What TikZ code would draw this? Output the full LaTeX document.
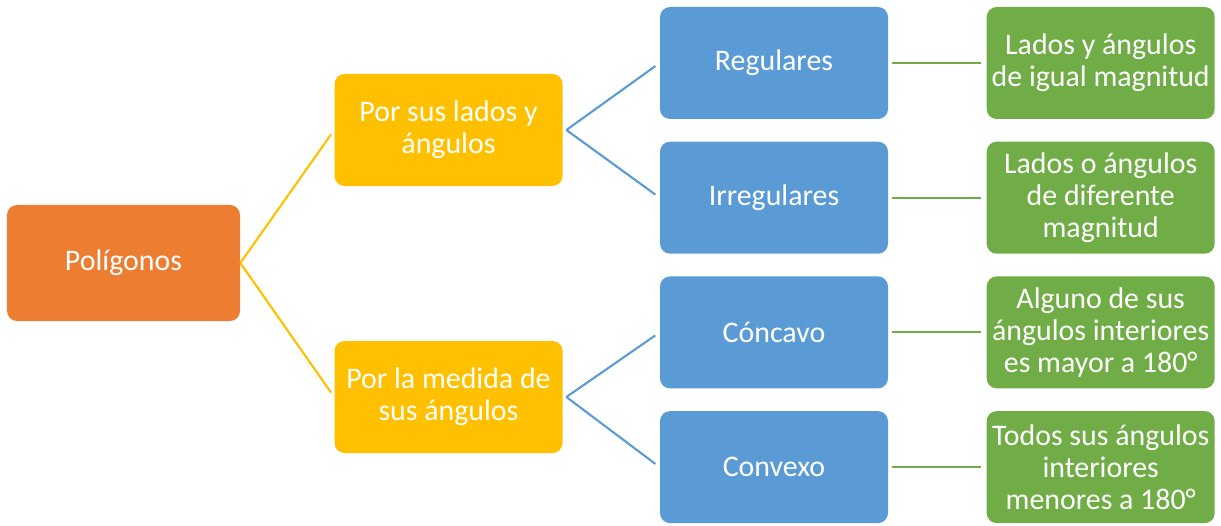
\documentclass[tikz,border=0pt]{standalone}
\usepackage{fontspec}
\setmainfont{Carlito}
\usetikzlibrary{positioning}
\definecolor{naranja}{HTML}{ED7D31}
\definecolor{oro}{HTML}{FFC000}
\definecolor{azul}{HTML}{5B9BD5}
\definecolor{verde}{HTML}{70AD47}

\tikzset{
  caja/.style={rounded corners=0.2cm, minimum width=4.56cm, minimum height=2.24cm,
    align=center, text=white, font=\fontsize{17}{18.3}\selectfont, inner sep=0pt},
  raiz/.style={caja, fill=naranja, minimum width=4.66cm, minimum height=2.32cm},
  tipo/.style={caja, fill=oro},
  clase/.style={caja, fill=azul},
  def/.style={caja, fill=verde},
  rama/.style={line width=1.2pt, shorten >=3pt},
}

\begin{document}
\begin{tikzpicture}
  \useasboundingbox (0,0) rectangle (24.42,10.5);

  % Nodes
  \node[raiz]  at (2.47,5.24)            (pol) {Polígonos};
  \node[tipo]  at (8.97,7.9)             (lados) {Por sus lados y\\ángulos};
  \node[tipo]  at (8.97,2.56)            (medida) {Por la medida de\\sus ángulos};
  \node[clase] at (15.48,9.24)           (reg) {Regulares};
  \node[clase, below=0.44cm of reg]      (irr) {Irregulares};
  \node[clase, below=0.44cm of irr]      (conc) {Cóncavo};
  \node[clase, below=0.44cm of conc]     (conv) {Convexo};
  \node[def, right=1.96cm of reg]        (dreg) {Lados y ángulos\\de igual magnitud};
  \node[def, right=1.96cm of irr]        (dirr) {Lados o ángulos\\de diferente\\magnitud};
  \node[def, right=1.96cm of conc]       (dconc) {Alguno de sus\\ángulos interiores\\es mayor a 180°};
  \node[def, right=1.96cm of conv]       (dconv) {Todos sus ángulos\\interiores\\menores a 180°};

  % Edges
  \draw[rama, oro] (pol.east) -- (lados.west);
  \draw[rama, oro] (pol.east) -- (medida.west);
  \draw[rama, azul] ([xshift=2pt]lados.east) -- (reg.west);
  \draw[rama, azul] ([xshift=2pt]lados.east) -- (irr.west);
  \draw[rama, azul] ([xshift=2pt]medida.east) -- (conc.west);
  \draw[rama, azul] ([xshift=2pt]medida.east) -- (conv.west);
  \foreach \a/\b in {reg/dreg, irr/dirr, conc/dconc, conv/dconv}
    \draw[rama, verde] ([xshift=2pt]\a.east) -- (\b.west);
\end{tikzpicture}
\end{document}
